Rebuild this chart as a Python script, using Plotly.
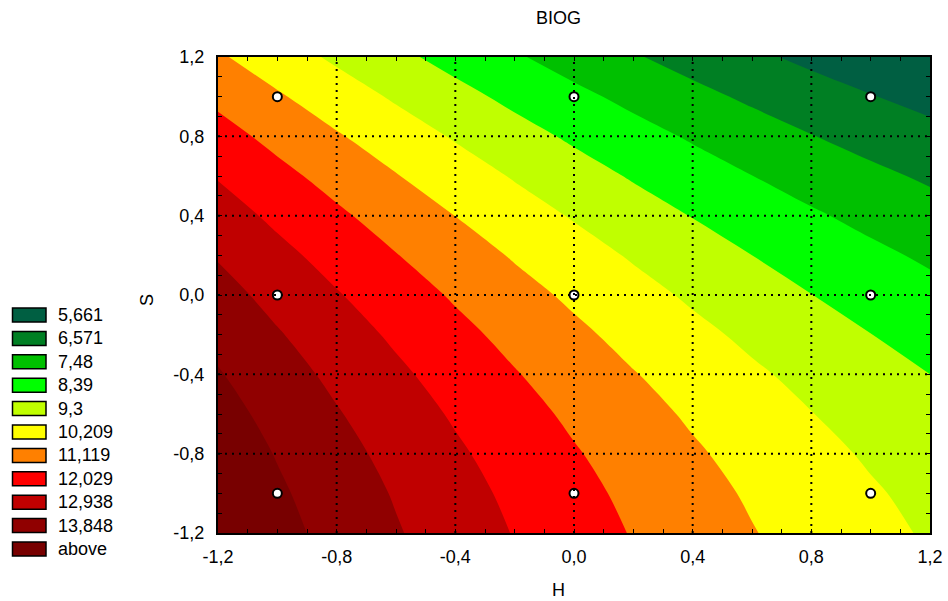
import plotly.graph_objects as go

# ---------------- data ----------------
H_grid = [-1.2, -1.0, -0.8, -0.6, -0.4, -0.2, 0.0, 0.2, 0.4, 0.6, 0.8, 1.0, 1.2]
S_grid = [-1.2, -1.0, -0.8, -0.6, -0.4, -0.2, 0.0, 0.2, 0.4, 0.6, 0.8, 1.0, 1.2]

# BIOG values (rows: S from -1.2 to 1.2, cols: H from -1.2 to 1.2)
biog_s_m12 = [14.72, 14.13, 13.56, 13.01, 12.49, 11.99, 11.52, 11.07, 10.65, 10.25, 9.88, 9.53, 9.21]
biog_s_m10 = [14.58, 13.98, 13.41, 12.87, 12.34, 11.85, 11.37, 10.93, 10.50, 10.11, 9.74, 9.39, 9.07]
biog_s_m08 = [14.40, 13.80, 13.23, 12.68, 12.16, 11.66, 11.19, 10.74, 10.32, 9.92, 9.55, 9.20, 8.88]
biog_s_m06 = [14.17, 13.58, 13.00, 12.46, 11.93, 11.44, 10.96, 10.52, 10.09, 9.70, 9.32, 8.98, 8.65]
biog_s_m04 = [13.91, 13.31, 12.74, 12.19, 11.67, 11.17, 10.70, 10.25, 9.83, 9.43, 9.06, 8.71, 8.39]
biog_s_m02 = [13.60, 13.01, 12.43, 11.89, 11.36, 10.87, 10.39, 9.94, 9.52, 9.12, 8.75, 8.40, 8.08]
biog_s_00 = [13.26, 12.66, 12.09, 11.54, 11.02, 10.52, 10.05, 9.60, 9.17, 8.78, 8.40, 8.06, 7.73]
biog_s_p02 = [12.87, 12.27, 11.70, 11.15, 10.63, 10.13, 9.66, 9.21, 8.79, 8.39, 8.01, 7.67, 7.34]
biog_s_p04 = [12.44, 11.84, 11.27, 10.72, 10.20, 9.70, 9.23, 8.78, 8.36, 7.96, 7.59, 7.24, 6.91]
biog_s_p06 = [11.97, 11.37, 10.80, 10.25, 9.73, 9.23, 8.76, 8.31, 7.89, 7.49, 7.11, 6.77, 6.44]
biog_s_p08 = [11.46, 10.86, 10.29, 9.74, 9.22, 8.72, 8.25, 7.80, 7.38, 6.98, 6.60, 6.25, 5.93]
biog_s_p10 = [10.91, 10.31, 9.74, 9.19, 8.67, 8.17, 7.70, 7.25, 6.82, 6.42, 6.05, 5.70, 5.38]
biog_s_p12 = [10.32, 9.72, 9.15, 8.60, 8.08, 7.58, 7.10, 6.65, 6.23, 5.83, 5.46, 5.11, 4.79]

# design points
design_H = [-1, 0, 1, -1, 0, 1, -1, 0, 1]
design_S = [-1, -1, -1, 0, 0, 0, 1, 1, 1]

# contour levels and legend
levels = [5.661, 6.571, 7.48, 8.39, 9.3, 10.209, 11.119, 12.029, 12.938, 13.848]
legend_labels = ["5,661", "6,571", "7,48", "8,39", "9,3", "10,209", "11,119",
                 "12,029", "12,938", "13,848", "above"]
band_colors = ["#005F42", "#007F23", "#00C000", "#00FF00", "#C0FF00", "#FFFF00",
               "#FF8000", "#FF0000", "#C00000", "#900000", "#780000"]

tick_vals = [-1.2, -0.8, -0.4, 0.0, 0.4, 0.8, 1.2]
tick_text = ["-1,2", "-0,8", "-0,4", "0,0", "0,4", "0,8", "1,2"]

# ---------------- figure ----------------
Z = [biog_s_m12, biog_s_m10, biog_s_m08, biog_s_m06, biog_s_m04, biog_s_m02, biog_s_00,
     biog_s_p02, biog_s_p04, biog_s_p06, biog_s_p08, biog_s_p10, biog_s_p12]

W, Hgt = 948, 601
L, R, T, B = 218, 18, 57, 68
pw, ph = W - L - R, Hgt - T - B


def px(xp):
    return (xp - L) / pw


def py(yp):
    return (Hgt - B - yp) / ph


FONT = "Liberation Sans, Arial, sans-serif"
size = (levels[-1] - levels[0]) / (len(levels) - 1)
n = len(band_colors)
colorscale = [[i / (n - 1), c] for i, c in enumerate(band_colors)]

fig = go.Figure()
fig.add_trace(go.Contour(
    x=H_grid, y=S_grid, z=Z,
    autocontour=False,
    contours=dict(start=levels[0], end=levels[-1] + size * 0.01, size=size,
                  coloring="fill", showlines=False),
    line=dict(width=0, smoothing=1.0),
    colorscale=colorscale, showscale=False, hoverinfo="skip",
))
fig.add_trace(go.Scatter(
    x=design_H, y=design_S, mode="markers",
    marker=dict(size=9, color="white", line=dict(color="black", width=2)),
    showlegend=False, hoverinfo="skip",
))

shapes = []
for v in tick_vals[1:-1]:
    shapes.append(dict(type="line", xref="x", yref="paper", x0=v, x1=v, y0=0, y1=1,
                       line=dict(color="black", width=2, dash="2px,5px"), layer="above"))
    shapes.append(dict(type="line", xref="paper", yref="y", x0=0, x1=1, y0=v, y1=v,
                       line=dict(color="black", width=2, dash="2px,5px"), layer="above"))

annotations = []
# legend boxes
for i, (lab, col) in enumerate(zip(legend_labels, band_colors)):
    cy = 315 + 23.4 * i
    shapes.append(dict(type="rect", xref="paper", yref="paper",
                       x0=px(12.5), x1=px(46), y0=py(cy - 7), y1=py(cy + 7),
                       fillcolor=col, line=dict(color="black", width=1.5), layer="above"))
    annotations.append(dict(text=lab, xref="paper", yref="paper", x=px(56), y=py(cy),
                            xanchor="left", yanchor="middle", showarrow=False,
                            font=dict(family=FONT, size=18, color="black")))

annotations.append(dict(text="BIOG", xref="paper", yref="paper", x=px(558), y=py(18),
                        xanchor="center", yanchor="middle", showarrow=False,
                        font=dict(family=FONT, size=18, color="black")))
annotations.append(dict(text="H", xref="paper", yref="paper", x=px(558), y=py(590),
                        xanchor="center", yanchor="middle", showarrow=False,
                        font=dict(family=FONT, size=18, color="black")))
annotations.append(dict(text="S", xref="paper", yref="paper", x=px(147), y=py(300),
                        xanchor="center", yanchor="middle", showarrow=False, textangle=-90,
                        font=dict(family=FONT, size=18, color="black")))

axis_common = dict(
    range=[-1.2, 1.2], tickmode="array", tickvals=tick_vals, ticktext=tick_text,
    ticks="inside", ticklen=4, tickwidth=1, tickcolor="black",
    showline=True, linewidth=2, linecolor="black", mirror="allticks",
    showgrid=False, zeroline=False, layer="above traces", automargin=False,
    minor=dict(tickmode="linear", tick0=-1.2, dtick=0.1, ticks="inside", ticklen=4,
               tickwidth=1, tickcolor="black", showgrid=False),
    tickfont=dict(family=FONT, size=18, color="black"),
    fixedrange=True,
)

fig.update_layout(
    width=W, height=Hgt,
    margin=dict(l=L, r=R, t=T, b=B, pad=0, autoexpand=False),
    paper_bgcolor="white", plot_bgcolor="white",
    xaxis=dict(**axis_common, ticklabelstandoff=6),
    yaxis=dict(**axis_common, ticklabelstandoff=8),
    shapes=shapes, annotations=annotations,
    showlegend=False,
)

fig.write_html("out.html")
